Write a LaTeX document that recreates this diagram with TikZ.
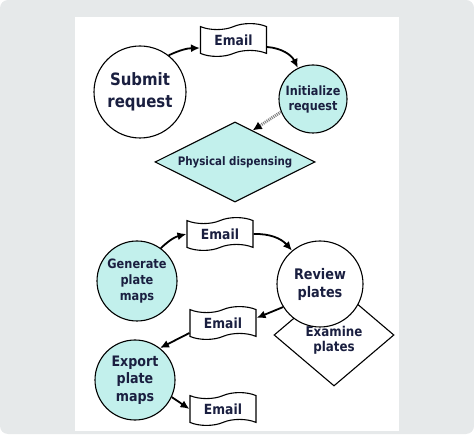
\documentclass[tikz,border=0pt]{standalone}
\usepackage{fontspec}
\newfontfamily\dv{DejaVu Sans}[FakeStretch=0.88]
\usetikzlibrary{shapes.geometric,shapes.symbols,arrows.meta,calc}
\definecolor{bggray}{HTML}{E6E9EA}
\definecolor{cyanfill}{HTML}{C2F0EC}
\definecolor{navy}{HTML}{1A1F40}
\begin{document}
\begin{tikzpicture}[x=1pt,y=1pt,
  base/.style={draw=black, line width=1.1pt, text=navy, inner sep=0pt, align=center},
  circ/.style={base, circle},
  dia/.style={base, diamond},
  mail/.style={base, tape, minimum width=66pt, inner ysep=5pt,
    tape bend top=in and out, tape bend bottom=in and out, tape bend height=6pt,
    fill=white, font=\dv\bfseries\fontsize{14}{16}\selectfont},
  arr/.style={line width=1.8pt, -{Latex[length=9pt,width=8pt]}},
  dotarr/.style={line width=3pt, draw=gray, dash pattern=on 1pt off 1pt, -{Latex[length=9pt,width=9pt,black]}}
]
\fill[bggray, rounded corners=8pt] (0,0) rectangle (474,434);
\fill[white] (75,3) rectangle (399,417);

\node[circ, minimum size=92pt, fill=white, font=\dv\bfseries\fontsize{17}{22}\selectfont] (sub) at (140,342) {Submit\\request};
\node[mail] (em1) at (233.5,394) {Email};
\node[circ, minimum size=68pt, fill=cyanfill, font=\dv\bfseries\fontsize{12.8}{15}\selectfont] (ini) at (313,335) {Initialize\\request};
\node[dia, aspect=2, minimum width=160pt, minimum height=80pt, fill=cyanfill, font=\dv\bfseries\fontsize{11.7}{14}\selectfont] (phys) at (235,272) {Physical dispensing};

\node[circ, minimum size=80pt, fill=cyanfill, font=\dv\bfseries\fontsize{12.9}{16}\selectfont] (gen) at (137,153) {Generate\\plate\\maps};
\node[mail] (em2) at (220,200) {Email};
\node[dia, aspect=1.2, minimum width=120pt, minimum height=102pt, fill=white, font=\dv\bfseries\fontsize{13.5}{15}\selectfont] (exa) at (334,99) {\raisebox{-9.5pt}[0pt][0pt]{\begin{tabular}{@{}c@{}}Examine\\plates\end{tabular}}};
\node[circ, minimum size=86pt, fill=white, font=\dv\bfseries\fontsize{14.6}{18}\selectfont] (rev) at (320,150) {Review\\plates};
\node[mail] (em3) at (223,111) {Email};
\node[circ, minimum size=80pt, fill=cyanfill, font=\dv\bfseries\fontsize{14.4}{17.5}\selectfont] (exp) at (135,54) {Export\\plate\\maps};
\node[mail] (em4) at (223,25) {Email};

\draw[arr] (sub.52) to[bend left=12] ([yshift=-8pt]em1.west);
\draw[arr] ([yshift=-7pt]em1.east) to[bend left=30] (ini.116);
\draw[dotarr] (ini.202) -- ($(phys.north)!0.22!(phys.east)$);
\draw[arr] (gen.54) to[bend left=15] (em2.west);
\draw[arr] (em2.east) to[bend left=25] (rev.130);
\draw[arr] (rev.212) -- ([yshift=5pt]em3.east);
\draw[arr] ([yshift=-10pt]em3.west) -- (exp.52);
\draw[arr] (exp.-25) -- (em4.west);
\end{tikzpicture}
\end{document}
